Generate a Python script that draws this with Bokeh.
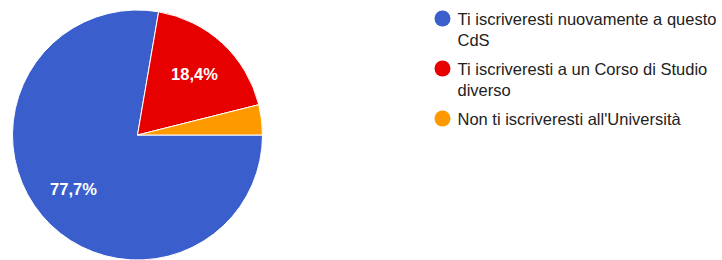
import math
import textwrap
from bokeh.plotting import figure
from bokeh.models import ColumnDataSource, Range1d
from bokeh.core.properties import value
from bokeh.embed import file_html
from bokeh.resources import INLINE

categories = [
    "Ti iscriveresti nuovamente a questo CdS",
    "Ti iscriveresti a un Corso di Studio diverso",
    "Non ti iscriveresti all'Università",
]
percentages = [77.7, 18.4, 3.9]
colors = ["#3a5fcd", "#e60000", "#ff9900"]

W, H = 722, 260
p = figure(width=W, height=H, output_backend="svg", toolbar_location=None,
           x_range=Range1d(0, W), y_range=Range1d(0, H), min_border=0,
           tools="")
p.axis.visible = False
p.grid.visible = False
p.outline_line_color = None
p.background_fill_color = "white"
p.border_fill_color = "white"

cx, cy, R = 137, 125.5, 125
total = sum(percentages)
starts, ends, mids = [], [], []
cum = 0.0
for v in percentages:
    a0 = -2 * math.pi * cum / total
    cum += v
    a1 = -2 * math.pi * cum / total
    starts.append(a0)
    ends.append(a1)
    mids.append((a0 + a1) / 2)

src = ColumnDataSource(dict(start=starts, end=ends, color=colors))
p.wedge(x=cx, y=cy, radius=R, start_angle="start", end_angle="end",
        direction="clock", fill_color="color", line_color="white",
        line_width=1, source=src)

lab_x, lab_y, lab_t = [], [], []
for v, m in zip(percentages, mids):
    if v / total >= 0.05:
        r = 0.67 * R
        lab_x.append(cx + r * math.cos(m))
        lab_y.append(cy + r * math.sin(m))
        lab_t.append(f"{v:.1f}%".replace(".", ","))
p.text(x=lab_x, y=lab_y, text=lab_t, text_color="white",
       text_font=value("Liberation Sans"), text_font_style="bold",
       text_font_size="16.5px", text_align="center", text_baseline="middle")

# legend
lx, ly0, line_h, gap = 442, 242, 21.5, 50
dot_x, dot_y, txt_x, txt_y, txt = [], [], [], [], []
y = ly0
for cat in categories:
    lines = textwrap.wrap(cat, width=36)
    dot_x.append(lx)
    dot_y.append(y)
    for i, ln in enumerate(lines):
        txt_x.append(lx + 15)
        txt_y.append(y - i * line_h)
        txt.append(ln)
    y -= gap
p.scatter(x=dot_x, y=dot_y, size=16, marker="circle", fill_color=colors,
          line_color=None)
p.text(x=txt_x, y=txt_y, text=txt, text_color="#222222",
       text_font=value("Liberation Sans"), text_font_size="16.5px",
       text_align="left", text_baseline="middle")

open("out.html", "w").write(file_html(p, INLINE))
